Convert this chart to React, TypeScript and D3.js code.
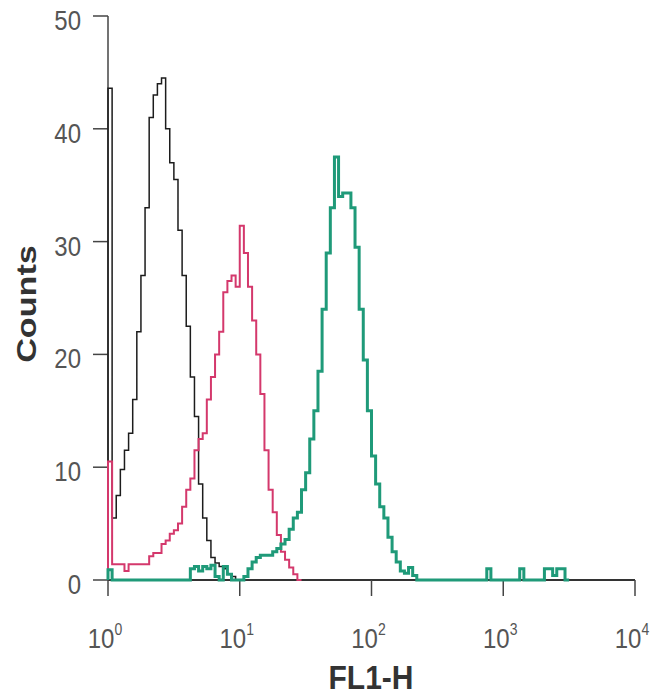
import React from "react";
import * as d3 from "d3";

// ---- data (counts per channel, 32 channels per decade, starting at 10^0) ----
const BINS_PER_DECADE = 32;
const xTickExponents = [0, 1, 2, 3, 4];
const superDigits = ["0", "1", "2", "3", "4"];
const yTicks = [0, 10, 20, 30, 40, 50];

const blackCounts = [
  43.6, 5.5, 7.5, 9.8, 11.5, 13, 16, 22, 27, 33, 41, 43, 44, 44.5, 40, 37,
  35.5, 31, 27, 22.5, 18, 14.5, 8.5, 5.5, 3.5, 2, 1.5, 1.2, 1, 0.5, 0.3, 0,
];

const pinkCounts = [
  10.5, 1.4, 1.4, 1.4, 0.8, 1.4, 1.4, 1.4, 1.4, 1.4, 2.1, 2.4, 2.4, 3.2, 3.5,
  4.1, 4.4, 5, 6.5, 8, 9, 11.5, 12.5, 13, 16, 18, 20, 22, 25.5, 26.5, 27, 26,
  31.4, 29, 26, 23, 20, 16.5, 11.5, 8, 6, 4, 2.5, 1.8, 1.1, 0.5, 0,
];

const greenCounts = [
  0.9, 0, 0, 0, 0, 0, 0, 0, 0, 0, 0, 0, 0, 0, 0, 0, 0, 0, 0, 0,
  1.0, 1.2, 0.8, 1.2, 1.0, 1.3, 0.3, 0, 1.2, 0.5,
  0, 0, 0, 0.3,
  1.0, 1.6, 2.0, 2.2, 2.2, 2.2, 2.5, 2.8, 3.2, 3.6, 4.5, 5.5, 6.0, 8.0, 9.5,
  12.5, 15, 18.5, 24, 29, 33, 37.5, 34, 34.3, 34.3, 33, 29.5, 24, 19.5, 15,
  11, 8.5, 6.5, 5.5, 3.8, 2.5, 1.6, 0.8, 0.6, 1.1, 0.4,
  0, 0, 0, 0, 0, 0, 0, 0, 0, 0, 0, 0, 0, 0, 0, 0, 0,
  1.0,
  0, 0, 0, 0, 0, 0, 0,
  1.0,
  0, 0, 0, 0, 0,
  1.0, 1.0, 0.4, 1.0, 1.0, 0,
];

const seriesList = [
  { name: "isotype", counts: blackCounts, color: "#1c1c1c", width: 1.5 },
  { name: "sample", counts: pinkCounts, color: "#d4386c", width: 2 },
  { name: "stained", counts: greenCounts, color: "#1f9a79", width: 3 },
];

const W = 650;
const H = 697;
const left = 108;
const right = 635;
const top = 16;
const bottom = 580;

export default function App() {
  const x = d3.scaleLog().domain([1, 10000]).range([left, right]);
  const y = d3.scaleLinear().domain([0, 50]).range([bottom, top]);
  const binX = (i: number) => x(Math.pow(10, i / BINS_PER_DECADE));

  const line = d3
    .line<[number, number]>()
    .x((d) => d[0])
    .y((d) => d[1])
    .curve(d3.curveStepAfter);

  const pathFor = (counts: number[]) => {
    const pts: [number, number][] = [[binX(0), y(0)]];
    counts.forEach((c, i) => pts.push([binX(i), y(c)]));
    pts.push([binX(counts.length), y(0)]);
    return line(pts) || "";
  };

  const sy = 1.17;
  return (
    <svg
      width={W}
      height={H}
      style={{ position: "absolute", left: 0, top: 0, background: "#fff" }}
      fontFamily="Liberation Sans, Arial, sans-serif"
    >
      <rect x={0} y={0} width={W} height={H} fill="#fff" />
      {/* axes */}
      <line x1={left} x2={left} y1={top} y2={bottom} stroke="#444" strokeWidth={1.5} />
      <line x1={left} x2={right} y1={bottom} y2={bottom} stroke="#333" strokeWidth={1.8} />
      {yTicks.map((t) => (
        <g key={"y" + t}>
          <line x1={left - 15} x2={left} y1={y(t)} y2={y(t)} stroke="#444" strokeWidth={1.5} />
          <g transform={`translate(${left - 27},${y(t) + 14}) scale(1,${sy})`}>
            <text textAnchor="end" fontSize={24} fill="#555">
              {t}
            </text>
          </g>
        </g>
      ))}
      {xTickExponents.map((e, i) => (
        <g key={"x" + e}>
          <line
            x1={x(Math.pow(10, e))}
            x2={x(Math.pow(10, e))}
            y1={bottom}
            y2={bottom + 16}
            stroke="#444"
            strokeWidth={1.5}
          />
          <g transform={`translate(${x(Math.pow(10, e)) - 3},${648}) scale(1,${sy})`}>
            <text textAnchor="middle" fontSize={24} fill="#555">
              10
              <tspan fontSize={14} dy={-11}>
                {superDigits[i]}
              </tspan>
            </text>
          </g>
        </g>
      ))}
      {/* series */}
      {seriesList.map((s) => (
        <path
          key={s.name}
          d={pathFor(s.counts)}
          fill="none"
          stroke={s.color}
          strokeWidth={s.width}
          strokeLinejoin="miter"
        />
      ))}
      {/* axis titles */}
      <g transform={`translate(${371},${689}) scale(1,1.1)`}>
        <text textAnchor="middle" fontSize={30} fontWeight="bold" fill="#333">
          FL1-H
        </text>
      </g>
      <g transform={`translate(${36},${304}) rotate(-90) scale(1.22,1)`}>
        <text textAnchor="middle" fontSize={28} fontWeight="bold" fill="#333">
          Counts
        </text>
      </g>
    </svg>
  );
}
